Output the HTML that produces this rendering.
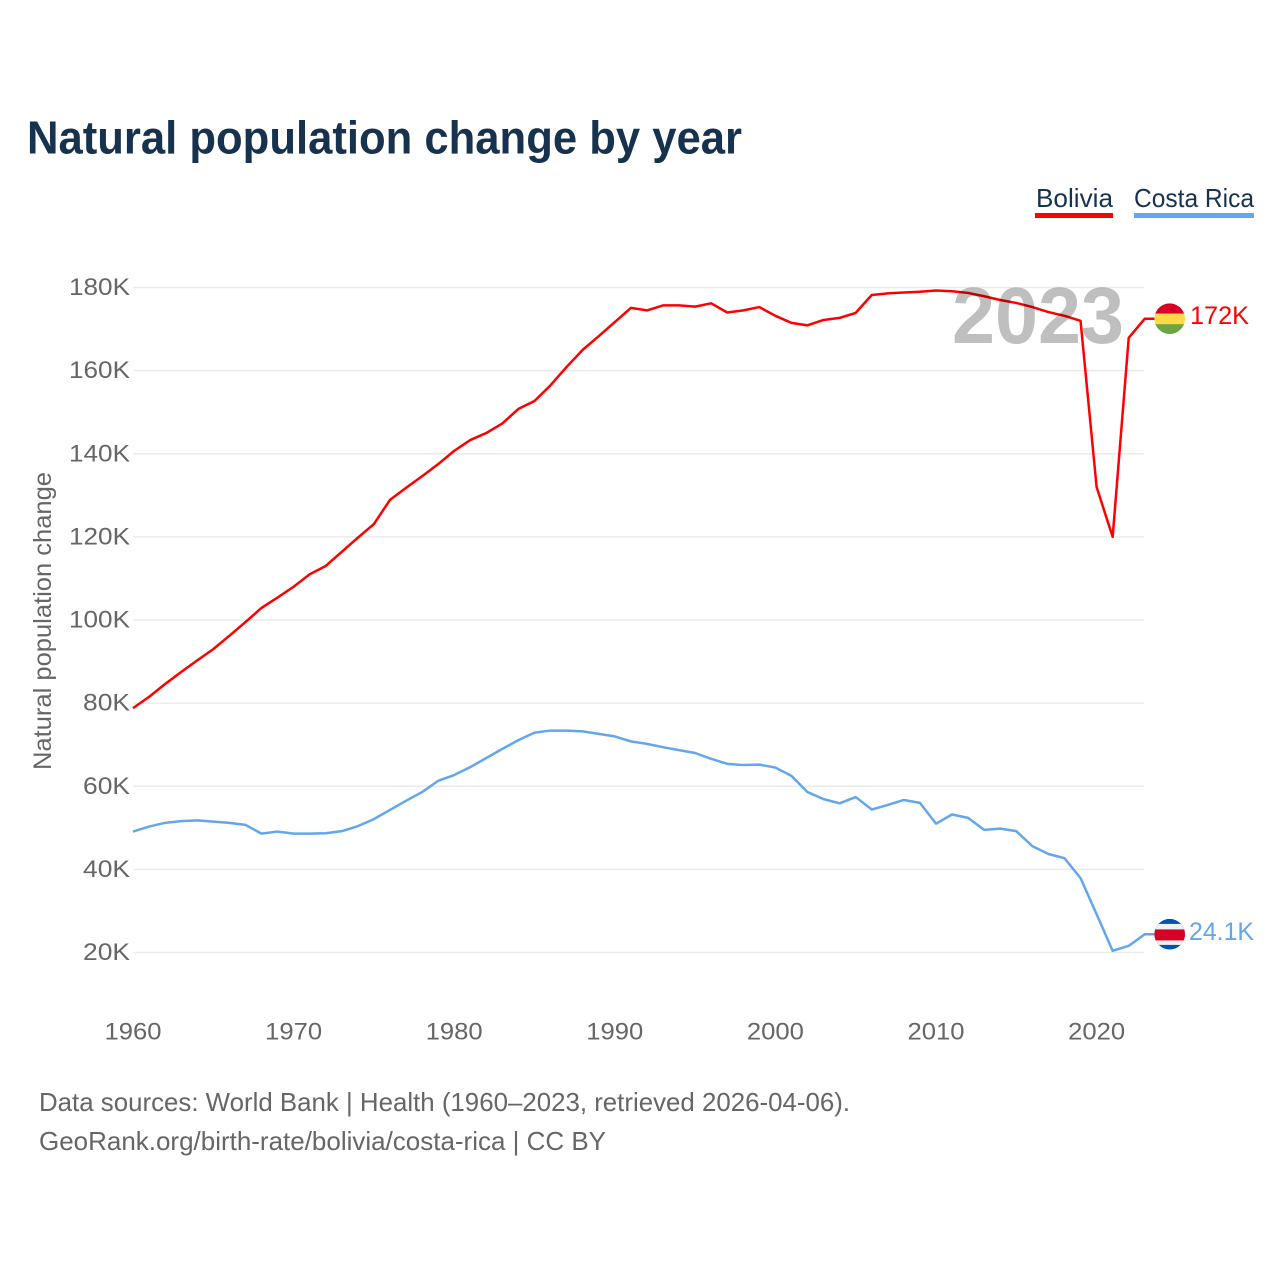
<!DOCTYPE html>
<html lang="en">
<head>
<meta charset="utf-8">
<title>Natural population change by year</title>
<style>
html,body{margin:0;padding:0;background:#fff;width:1280px;height:1280px;overflow:hidden}
svg{display:block}
text{font-family:"Liberation Sans",sans-serif}
</style>
</head>
<body>
<svg id="chart" xmlns="http://www.w3.org/2000/svg" width="1280" height="1280" viewBox="0 0 1280 1280">
  <rect x="0" y="0" width="1280" height="1280" fill="#fff"/>
  <text x="27" y="153.5" font-size="46.5" font-weight="700" fill="#17324f" textLength="715" lengthAdjust="spacingAndGlyphs">Natural population change by year</text>

  <g>
    <text x="1036" y="207" font-size="26" fill="#17324f" textLength="77" lengthAdjust="spacingAndGlyphs">Bolivia</text>
    <rect x="1035" y="213" width="78" height="5" fill="#ff0000"/>
  </g>
  <g>
    <text x="1134" y="207" font-size="26" fill="#17324f" textLength="120" lengthAdjust="spacingAndGlyphs">Costa Rica</text>
    <rect x="1134" y="213" width="120" height="5" fill="#63a6ec"/>
  </g>

  <g id="grid"></g>
  <g id="yticks"></g>
  <g id="xticks"></g>
  <text transform="translate(51 621) rotate(-90)" text-anchor="middle" font-size="25" fill="#666" textLength="298" lengthAdjust="spacingAndGlyphs">Natural population change</text>

  <g id="series"></g>

  <text x="952" y="343" font-size="80" font-weight="700" fill="#000" fill-opacity="0.25" textLength="172" lengthAdjust="spacingAndGlyphs">2023</text>

  <defs>
    <clipPath id="clip-bo"><circle id="clip-bo-c" cx="1169.7" r="15.3"/></clipPath>
    <clipPath id="clip-cr"><circle id="clip-cr-c" cx="1169.7" r="15.3"/></clipPath>
  </defs>
  <g id="flag-bo" clip-path="url(#clip-bo)">
    <rect id="bo1" x="1154" width="31" height="11" fill="#d80027"/>
    <rect id="bo2" x="1154" width="31" height="11" fill="#ffda44"/>
    <rect id="bo3" x="1154" width="31" height="10" fill="#6da544"/>
  </g>
  <g id="flag-cr" clip-path="url(#clip-cr)">
    <rect id="cr1" x="1154" width="31" height="31" fill="#0052b4"/>
    <rect id="cr2" x="1154" width="31" height="21" fill="#f0f0f0"/>
    <rect id="cr3" x="1154" width="31" height="11" fill="#d80027"/>
  </g>
  <text id="label-bo" x="1190" font-size="25" fill="#ff0000" textLength="59" lengthAdjust="spacingAndGlyphs"></text>
  <text id="label-cr" x="1189" font-size="25" fill="#63a6ec" textLength="65" lengthAdjust="spacingAndGlyphs"></text>

  <text x="39" y="1111" font-size="26" fill="#666" textLength="811" lengthAdjust="spacingAndGlyphs">Data sources: World Bank | Health (1960–2023, retrieved 2026-04-06).</text>
  <text x="39" y="1150" font-size="26" fill="#666" textLength="567" lengthAdjust="spacingAndGlyphs">GeoRank.org/birth-rate/bolivia/costa-rica | CC BY</text>
</svg>
<script>
const startYear = 1960;
const xTickLabels = [1960, 1970, 1980, 1990, 2000, 2010, 2020];
const yTickLabels = [20, 40, 60, 80, 100, 120, 140, 160, 180];
const boliviaValues = [78.8,81.5,84.6,87.5,90.3,93,96.2,99.5,102.9,105.4,108,111,113,116.4,119.8,123.1,128.9,131.8,134.6,137.5,140.7,143.3,145,147.3,150.8,152.7,156.5,160.9,165,168.3,171.7,175.1,174.5,175.7,175.7,175.4,176.2,174,174.5,175.3,173.2,171.5,170.9,172.2,172.7,173.9,178.2,178.6,178.8,179,179.3,179.1,178.7,177.9,177,176.3,175.3,174.1,173.2,172,132,120,167.9,172.5];
const costaRicaValues = [49.1,50.3,51.2,51.6,51.8,51.5,51.2,50.7,48.6,49.1,48.6,48.6,48.7,49.2,50.4,52.1,54.3,56.5,58.6,61.3,62.7,64.6,66.8,69,71.1,72.9,73.4,73.4,73.2,72.6,72,70.8,70.2,69.4,68.7,68,66.6,65.4,65.1,65.2,64.5,62.5,58.6,56.9,55.9,57.4,54.4,55.5,56.7,56,51,53.2,52.4,49.5,49.8,49.2,45.6,43.7,42.7,37.9,29.2,20.4,21.6,24.4];
const boliviaLabel = "172K";
const costaRicaLabel = "24.1K";

const NS = "http://www.w3.org/2000/svg";
function xScale(year){ return 133 + (year - 1960) * 16.06; }
function yScale(v){ return 952.5 - (v - 20) * 4.156; }
function make(tag, parent){
  const el = document.createElementNS(NS, tag);
  parent.appendChild(el);
  return el;
}

const grid = document.getElementById("grid");
const yticks = document.getElementById("yticks");
const xticks = document.getElementById("xticks");
const series = document.getElementById("series");

yTickLabels.forEach(function(v){
  const y = yScale(v);
  const line = make("line", grid);
  
  
  line.setAttribute("x1", 133);
  line.setAttribute("x2", 1144);
  line.setAttribute("y1", y);
  line.setAttribute("y2", y);
  line.setAttribute("stroke", "#ebebeb");
  line.setAttribute("stroke-width", "1.5");
  const t = make("text", yticks);
  
  
  t.setAttribute("x", 130);
  t.setAttribute("y", y + 7.5);
  t.setAttribute("text-anchor", "end");
  t.setAttribute("font-size", "24");
  t.setAttribute("fill", "#666");
  t.setAttribute("textLength", String(v).length === 3 ? 61 : 47);
  t.setAttribute("lengthAdjust", "spacingAndGlyphs");
  t.textContent = v + "K";
});

xTickLabels.forEach(function(yr){
  const t = make("text", xticks);
  
  
  t.setAttribute("x", xScale(yr));
  t.setAttribute("y", 1039.5);
  t.setAttribute("text-anchor", "middle");
  t.setAttribute("font-size", "24");
  t.setAttribute("fill", "#666");
  t.setAttribute("textLength", 57);
  t.setAttribute("lengthAdjust", "spacingAndGlyphs");
  t.textContent = yr;
});

function drawLine(values, color, name){
  const pts = values.map(function(v, i){
    return xScale(startYear + i).toFixed(2) + "," + yScale(v).toFixed(2);
  });
  const lastY = yScale(values[values.length - 1]);
  pts.push("1156," + lastY.toFixed(2));
  const p = make("polyline", series);
  
  
  p.setAttribute("points", pts.join(" "));
  p.setAttribute("fill", "none");
  p.setAttribute("stroke", color);
  p.setAttribute("stroke-width", "2.5");
  p.setAttribute("stroke-linejoin", "round");
  return lastY;
}
const yBo = drawLine(boliviaValues, "#ff0000", "bolivia-line");
const yCr = drawLine(costaRicaValues, "#63a6ec", "costa-rica-line");

function setY(id, y){ document.getElementById(id).setAttribute("y", y); }
document.getElementById("clip-bo-c").setAttribute("cy", yBo);
document.getElementById("clip-cr-c").setAttribute("cy", yCr);
setY("bo1", yBo - 15.5); setY("bo2", yBo - 5.2); setY("bo3", yBo + 5.5);
setY("cr1", yCr - 15.5); setY("cr2", yCr - 10.3); setY("cr3", yCr - 4.8);
const labelBo = document.getElementById("label-bo");
labelBo.setAttribute("y", yBo + 5.5);
labelBo.textContent = boliviaLabel;
const labelCr = document.getElementById("label-cr");
labelCr.setAttribute("y", yCr + 6);
labelCr.textContent = costaRicaLabel;
</script>
</body>
</html>
